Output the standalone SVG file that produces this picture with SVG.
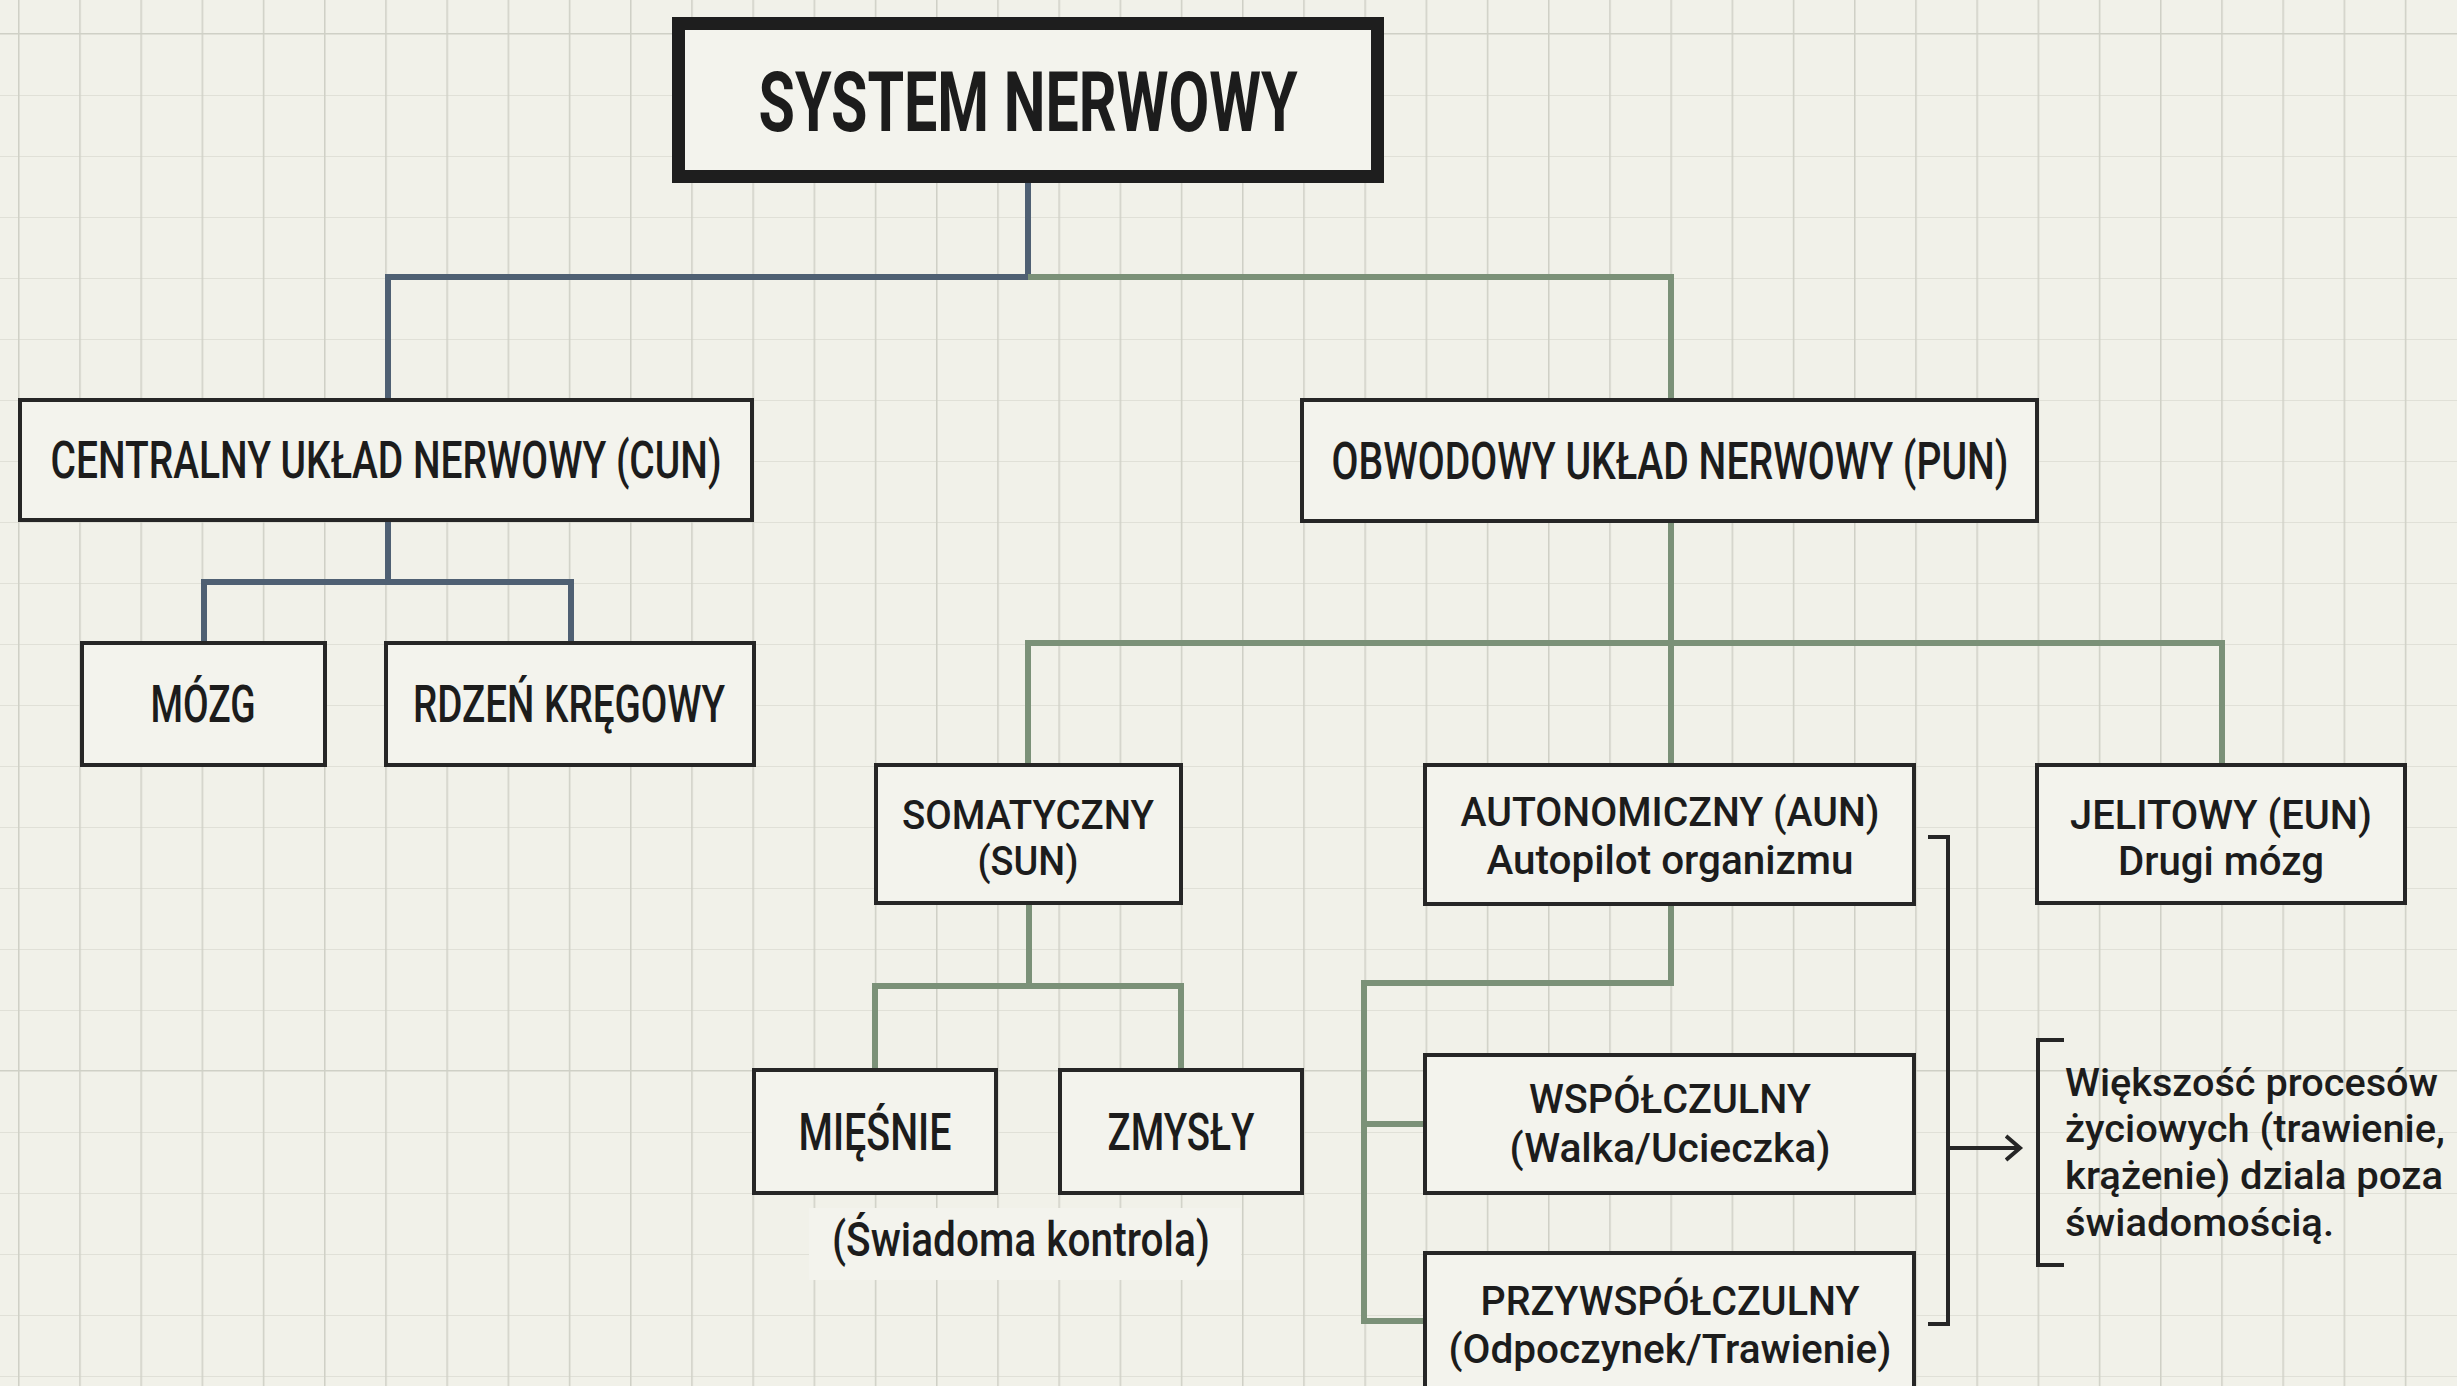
<svg xmlns="http://www.w3.org/2000/svg" width="2457" height="1386" viewBox="0 0 2457 1386">
<defs>
<pattern id="grid" patternUnits="userSpaceOnUse" x="18" y="33" width="61.2" height="61">
<rect width="61.2" height="61" fill="#f1f1e9"/>
<path d="M0 0 V61 M0 0 H61.2" stroke="#cfd0c6" stroke-width="3" fill="none"/>
</pattern>
<marker id="arr" markerUnits="userSpaceOnUse" markerWidth="20" markerHeight="30" refX="15" refY="13" orient="auto" viewBox="0 0 20 26">
<path d="M1 1 L15 13 L1 25" fill="none" stroke="#262626" stroke-width="4"/>
</marker>
</defs>
<style>
.box{fill:#f3f3ed;stroke:#262626;stroke-width:4}
.t{font-family:Roboto,"Liberation Sans",sans-serif;font-weight:500;fill:#1c1c1c;text-anchor:middle}
.l{font-size:52px}
.s{font-size:41px}
.blue{fill:none;stroke:#4f6073;stroke-width:6}
.green{fill:none;stroke:#7b9178;stroke-width:6}
.br{fill:none;stroke:#262626;stroke-width:4}
.note{font-family:Roboto,"Liberation Sans",sans-serif;font-weight:500;font-size:38px;fill:#1c1c1c}
</style>
<rect width="2457" height="1386" fill="url(#grid)"/>
<rect x="809" y="1208" width="432" height="72" fill="#f3f3ed"/>

<g id="connectors">
<path class="blue" d="M1028 180 V277 H388 V400"/>
<path class="green" d="M1028 277 H1671 V400"/>
<path class="blue" d="M388 520 V582 M204 643 V582 H571 V643"/>
<path class="green" d="M1671 521 V765 M1028 765 V643 H2222 V765"/>
<path class="green" d="M1029 903 V986 M875 1070 V986 H1181 V1070"/>
<path class="green" d="M1671 904 V983 H1364 V1321 H1425 M1364 1124 H1425"/>
<path class="br" d="M1928 837 H1948 V1324 H1928"/>
<path class="br" d="M1948 1148 H2020" marker-end="url(#arr)"/>
<path class="br" d="M2064 1040 H2038 V1265 H2064"/>
</g>

<g id="title">
<rect x="678.5" y="23.5" width="699" height="153" fill="#f3f3ed" stroke="#1e1e1e" stroke-width="13"/>
<text class="t" x="1028" y="131" style="font-size:84px;font-weight:700" textLength="539" lengthAdjust="spacingAndGlyphs">SYSTEM NERWOWY</text>
</g>

<g id="cun">
<rect class="box" x="20" y="400" width="732" height="120"/>
<text class="t l" x="386" y="478" textLength="671" lengthAdjust="spacingAndGlyphs">CENTRALNY UKŁAD NERWOWY (CUN)</text>
</g>

<g id="pun">
<rect class="box" x="1302" y="400" width="735" height="121"/>
<text class="t l" x="1670" y="479" textLength="677" lengthAdjust="spacingAndGlyphs">OBWODOWY UKŁAD NERWOWY (PUN)</text>
</g>

<g id="mozg">
<rect class="box" x="82" y="643" width="243" height="122"/>
<text class="t l" x="203" y="722" textLength="105" lengthAdjust="spacingAndGlyphs">MÓZG</text>
</g>

<g id="rdzen">
<rect class="box" x="386" y="643" width="368" height="122"/>
<text class="t l" x="569" y="722" textLength="312" lengthAdjust="spacingAndGlyphs">RDZEŃ KRĘGOWY</text>
</g>

<g id="sun">
<rect class="box" x="876" y="765" width="305" height="138"/>
<text class="t s" x="1028" y="829" textLength="252" lengthAdjust="spacingAndGlyphs">SOMATYCZNY</text>
<text class="t s" x="1028" y="875" textLength="101" lengthAdjust="spacingAndGlyphs">(SUN)</text>
</g>

<g id="aun">
<rect class="box" x="1425" y="765" width="489" height="139"/>
<text class="t s" x="1670" y="826" textLength="419" lengthAdjust="spacingAndGlyphs">AUTONOMICZNY (AUN)</text>
<text class="t s" x="1670" y="874" textLength="367" lengthAdjust="spacingAndGlyphs">Autopilot organizmu</text>
</g>

<g id="eun">
<rect class="box" x="2037" y="765" width="368" height="138"/>
<text class="t s" x="2221" y="829" textLength="302" lengthAdjust="spacingAndGlyphs">JELITOWY (EUN)</text>
<text class="t s" x="2221" y="875" textLength="206" lengthAdjust="spacingAndGlyphs">Drugi mózg</text>
</g>

<g id="miesnie">
<rect class="box" x="754" y="1070" width="242" height="123"/>
<text class="t l" x="875" y="1150" textLength="153" lengthAdjust="spacingAndGlyphs">MIĘŚNIE</text>
</g>

<g id="zmysly">
<rect class="box" x="1060" y="1070" width="242" height="123"/>
<text class="t l" x="1181" y="1150" textLength="147" lengthAdjust="spacingAndGlyphs">ZMYSŁY</text>
</g>

<g id="swiadoma">
<text class="t" x="1021" y="1256" style="font-size:48px" textLength="378" lengthAdjust="spacingAndGlyphs">(Świadoma kontrola)</text>
</g>

<g id="wspolczulny">
<rect class="box" x="1425" y="1055" width="489" height="138"/>
<text class="t s" x="1670" y="1113" textLength="282" lengthAdjust="spacingAndGlyphs">WSPÓŁCZULNY</text>
<text class="t s" x="1670" y="1162" textLength="321" lengthAdjust="spacingAndGlyphs">(Walka/Ucieczka)</text>
</g>

<g id="przywspolczulny">
<rect class="box" x="1425" y="1253" width="489" height="160"/>
<text class="t s" x="1670" y="1315" textLength="379" lengthAdjust="spacingAndGlyphs">PRZYWSPÓŁCZULNY</text>
<text class="t s" x="1670" y="1363" textLength="443" lengthAdjust="spacingAndGlyphs">(Odpoczynek/Trawienie)</text>
</g>

<g id="note">
<text class="note" x="2065" y="1096" textLength="373" lengthAdjust="spacingAndGlyphs">Większość procesów</text>
<text class="note" x="2065" y="1142" textLength="380" lengthAdjust="spacingAndGlyphs">życiowych (trawienie,</text>
<text class="note" x="2065" y="1189" textLength="378" lengthAdjust="spacingAndGlyphs">krążenie) dziala poza</text>
<text class="note" x="2065" y="1236" textLength="269" lengthAdjust="spacingAndGlyphs">świadomością.</text>
</g>
</svg>
